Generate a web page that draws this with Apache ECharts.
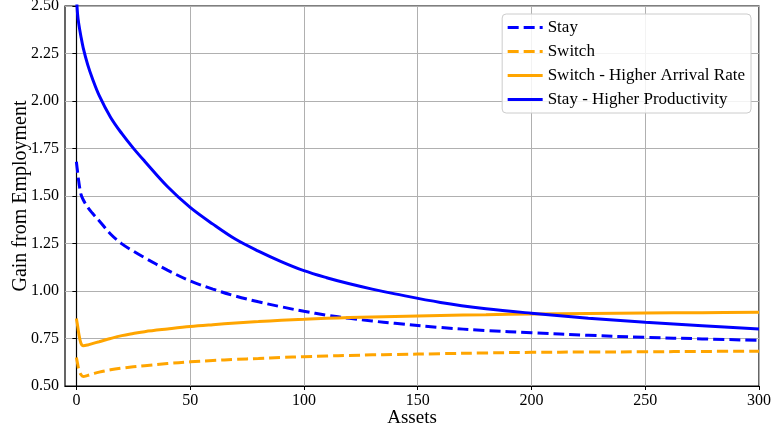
<!DOCTYPE html>
<html>
<head>
<meta charset="utf-8">
<script src="https://cdn.jsdelivr.net/npm/echarts@6/dist/echarts.min.js"></script>
<style>
  html, body { margin: 0; padding: 0; background: #fff; }
  #chart { width: 771px; height: 435px; }
</style>
</head>
<body>
<div id="chart"></div>
<script>
// Asset grid shared by all four curves
const assets = [0, 0.5, 1, 2, 3, 5, 7, 10, 15, 20, 25, 30, 40, 50, 60, 70, 80, 90, 100, 110, 120, 130, 140, 160, 180, 200, 225, 250, 275, 300];

// Gain from employment for each scenario
const stay = [1.68, 1.63, 1.58, 1.51, 1.48, 1.44, 1.41, 1.37, 1.30, 1.248, 1.21, 1.175, 1.11, 1.053, 1.01, 0.973, 0.943, 0.917, 0.893, 0.873, 0.856, 0.842, 0.83, 0.808, 0.792, 0.78, 0.767, 0.756, 0.748, 0.74];
const switchJob = [0.65, 0.62, 0.59, 0.56, 0.55, 0.556, 0.563, 0.573, 0.585, 0.594, 0.601, 0.607, 0.618, 0.627, 0.634, 0.64, 0.645, 0.65, 0.654, 0.658, 0.661, 0.664, 0.666, 0.67, 0.674, 0.677, 0.679, 0.68, 0.682, 0.683];
const switchHigherArrival = [0.855, 0.82, 0.78, 0.725, 0.712, 0.716, 0.723, 0.733, 0.75, 0.765, 0.776, 0.786, 0.80, 0.813, 0.823, 0.832, 0.839, 0.846, 0.851, 0.856, 0.86, 0.863, 0.866, 0.871, 0.875, 0.879, 0.882, 0.884, 0.886, 0.888];
const stayHigherProductivity = [2.56, 2.46, 2.41, 2.34, 2.28, 2.19, 2.12, 2.03, 1.915, 1.828, 1.752, 1.683, 1.55, 1.44, 1.352, 1.272, 1.21, 1.155, 1.107, 1.07, 1.038, 1.01, 0.985, 0.94, 0.907, 0.883, 0.857, 0.835, 0.817, 0.80];

// Axis ticks
const xTicks = [0, 50, 100, 150, 200, 250, 300];
const yTicks = [0.5, 0.75, 1.0, 1.25, 1.5, 1.75, 2.0, 2.25, 2.5];

const FONT = 'Liberation Serif';
const BLUE = '#0000ff';
const ORANGE = '#ffa500';

const pair = ys => assets.map((x, i) => [x, ys[i]]);

function lineSeries(name, ys, color, dashed) {
  return {
    name: name,
    type: 'line',
    data: pair(ys),
    symbol: 'none',
    smooth: 0.35,
    clip: true,
    lineStyle: { color: color, width: 3, type: dashed ? [11, 5] : 'solid', cap: 'butt' },
    itemStyle: { color: color },
    emphasis: { disabled: true },
    animation: false
  };
}

const chart = echarts.init(document.getElementById('chart'), null, { renderer: 'canvas' });
chart.setOption({
  animation: false,
  backgroundColor: '#ffffff',
  textStyle: { fontFamily: FONT },
  grid: {
    left: 65, right: 12, top: 6, bottom: 49,
    outerBoundsMode: 'none',
    containLabel: false,
    show: true, borderColor: '#000', borderWidth: 1.2, backgroundColor: 'transparent'
  },
  legend: {
    orient: 'vertical',
    right: 20, top: 14,
    itemWidth: 35, itemHeight: 14, itemGap: 7,
    padding: [5, 6, 5, 4],
    backgroundColor: 'rgba(255,255,255,0.85)',
    borderColor: '#cccccc', borderWidth: 1, borderRadius: 4,
    itemStyle: { opacity: 0 },
    lineStyle: { width: 3 },
    textStyle: { fontFamily: FONT, fontSize: 17, color: '#000' },
    data: ['Stay', 'Switch', 'Switch - Higher Arrival Rate', 'Stay - Higher Productivity']
  },
  xAxis: {
    type: 'value',
    min: -5, max: 300,
    name: 'Assets',
    nameLocation: 'middle',
    nameGap: 23,
    nameMoveOverlap: false,
    nameTextStyle: { fontFamily: FONT, fontSize: 19, color: '#000' },
    axisLine: { show: true, lineStyle: { color: '#000', width: 1.2 } },
    axisTick: { show: true, length: 4, inside: false, customValues: xTicks, lineStyle: { color: '#000' } },
    axisLabel: { customValues: xTicks, margin: 7, fontFamily: FONT, fontSize: 16, color: '#000' },
    splitLine: { show: true, lineStyle: { color: '#b0b0b0', width: 1 } }
  },
  yAxis: {
    type: 'value',
    min: 0.5, max: 2.5, interval: 0.25,
    name: 'Gain from Employment',
    nameLocation: 'middle',
    nameGap: 34,
    nameMoveOverlap: false,
    nameTextStyle: { fontFamily: FONT, fontSize: 20, color: '#000' },
    axisLine: { show: true, lineStyle: { color: '#000', width: 1.2 } },
    axisTick: { show: true, length: 4, inside: false, customValues: yTicks, lineStyle: { color: '#000' } },
    axisLabel: { customValues: yTicks, margin: 6, fontFamily: FONT, fontSize: 16, color: '#000', formatter: v => v.toFixed(2) },
    splitLine: { show: true, lineStyle: { color: '#b0b0b0', width: 1 } }
  },
  series: [
    lineSeries('Stay', stay, BLUE, true),
    lineSeries('Switch', switchJob, ORANGE, true),
    lineSeries('Switch - Higher Arrival Rate', switchHigherArrival, ORANGE, false),
    lineSeries('Stay - Higher Productivity', stayHigherProductivity, BLUE, false)
  ]
});
</script>
</body>
</html>
